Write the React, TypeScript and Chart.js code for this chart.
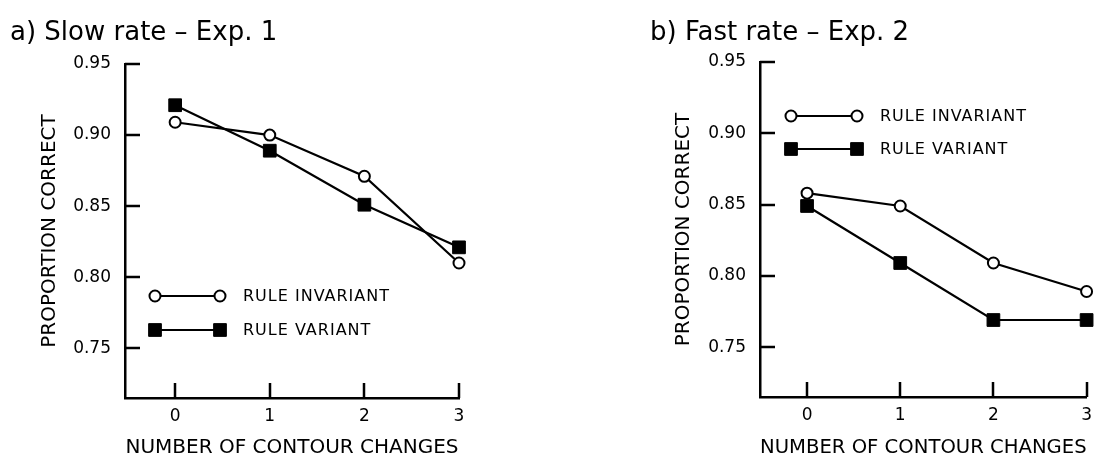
import React, { useEffect, useRef } from 'react';
import { Chart, registerables } from 'chart.js';

Chart.register(...registerables);

// ---- data ----
const xCategories = [0, 1, 2, 3];
const yTickValues = [0.75, 0.8, 0.85, 0.9, 0.95];
const seriesNames = ['RULE INVARIANT', 'RULE VARIANT'];
const slowInvariant = [0.909, 0.9, 0.871, 0.81];
const slowVariant = [0.921, 0.889, 0.851, 0.821];
const fastInvariant = [0.858, 0.849, 0.809, 0.789];
const fastVariant = [0.849, 0.809, 0.769, 0.769];
const panelTitles = ['a) Slow rate – Exp. 1', 'b) Fast rate – Exp. 2'];
const xAxisTitle = 'NUMBER OF CONTOUR CHANGES';
const yAxisTitle = 'PROPORTION CORRECT';

const FONT = '"DejaVu Sans", sans-serif';

type Layout = {
  canvasLeft: number;
  yAxisWidth: number;
  padRight: number;
  padTop: number;
  xAxisHeight: number;
  xMin: number;
  yMin: number;
  yMax: number;
  yTitlePad: number;
  titleX: number;
  titleY: number;
  legX1: number;
  legX2: number;
  legTextX: number;
  legY1: number;
  legY2: number;
};

const layouts: Layout[] = [
  {
    canvasLeft: 0, yAxisWidth: 125, padRight: 91, padTop: 64, xAxisHeight: 62,
    xMin: -0.53, yMin: 0.715, yMax: 0.95, yTitlePad: 38,
    titleX: 10, titleY: 33,
    legX1: 155, legX2: 220, legTextX: 243, legY1: 296, legY2: 330,
  },
  {
    canvasLeft: 550, yAxisWidth: 210, padRight: 7, padTop: 62, xAxisHeight: 63,
    xMin: -0.505, yMin: 0.715, yMax: 0.95, yTitlePad: 122,
    titleX: 100, titleY: 33,
    legX1: 241, legX2: 307, legTextX: 330, legY1: 116, legY2: 149,
  },
];

const toPoints = (vals: number[]) => xCategories.map((x, i) => ({ x, y: vals[i] }));

const decorPlugin = {
  id: 'decor',
  afterDraw(chart: any) {
    const opts = chart.options.plugins.decor;
    const ctx = chart.ctx;
    const area = chart.chartArea;
    const xs = chart.scales.x;
    const ys = chart.scales.y;
    ctx.save();
    ctx.strokeStyle = '#000';
    ctx.lineWidth = 2.5;
    // inward ticks
    ctx.beginPath();
    yTickValues.forEach((v) => {
      const py = Math.round(ys.getPixelForValue(v));
      ctx.moveTo(area.left, py);
      ctx.lineTo(area.left + 15, py);
    });
    xCategories.forEach((v) => {
      const px = Math.round(xs.getPixelForValue(v));
      ctx.moveTo(px, area.bottom);
      ctx.lineTo(px, area.bottom - 15);
    });
    ctx.stroke();

    // panel title
    ctx.fillStyle = '#000';
    ctx.font = `26px ${FONT}`;
    ctx.textBaseline = 'middle';
    ctx.textAlign = 'left';
    ctx.fillText(opts.title, opts.titleX, opts.titleY);

    // legend
    const rows = [
      { y: opts.legY1, ds: chart.data.datasets[0] },
      { y: opts.legY2, ds: chart.data.datasets[1] },
    ];
    rows.forEach(({ y, ds }) => {
      ctx.beginPath();
      ctx.lineWidth = 2.2;
      ctx.moveTo(opts.legX1, y);
      ctx.lineTo(opts.legX2, y);
      ctx.stroke();
      [opts.legX1, opts.legX2].forEach((lx: number) => {
        ctx.beginPath();
        if (ds.pointStyle === 'rect') {
          const s = ds.pointRadius * Math.SQRT1_2;
          ctx.rect(lx - s, y - s, 2 * s, 2 * s);
          ctx.fillStyle = '#000';
          ctx.fill();
          ctx.lineWidth = ds.pointBorderWidth;
          ctx.stroke();
        } else {
          ctx.arc(lx, y, ds.pointRadius, 0, Math.PI * 2);
          ctx.fillStyle = '#fff';
          ctx.fill();
          ctx.lineWidth = ds.pointBorderWidth;
          ctx.stroke();
        }
      });
      ctx.fillStyle = '#000';
      ctx.font = `16px ${FONT}`;
      (ctx as any).letterSpacing = '1px';
      ctx.textBaseline = 'middle';
      ctx.fillText(ds.label, opts.legTextX, y + 1);
      (ctx as any).letterSpacing = '0px';
    });
    ctx.restore();
  },
};

function Panel({ idx, invariant, variant }: { idx: number; invariant: number[]; variant: number[] }) {
  const ref = useRef<HTMLCanvasElement>(null);
  const L = layouts[idx];
  useEffect(() => {
    if (!ref.current) return;
    const chart = new Chart(ref.current, {
      type: 'line',
      data: {
        datasets: [
          {
            label: seriesNames[0],
            data: toPoints(invariant),
            borderColor: '#000',
            borderWidth: 2.2,
            pointStyle: 'circle',
            pointRadius: 5.5,
            pointBorderWidth: 2,
            pointBackgroundColor: '#fff',
            pointBorderColor: '#000',
            tension: 0,
            clip: false as any,
          },
          {
            label: seriesNames[1],
            data: toPoints(variant),
            borderColor: '#000',
            borderWidth: 2.2,
            pointStyle: 'rect',
            pointRadius: 9,
            pointBorderWidth: 1,
            pointBackgroundColor: '#000',
            pointBorderColor: '#000',
            tension: 0,
            clip: false as any,
          },
        ],
      },
      options: {
        responsive: false,
        animation: false,
        events: [],
        layout: { padding: { left: 0, top: L.padTop, right: L.padRight, bottom: 0 } },
        plugins: {
          legend: { display: false },
          tooltip: { enabled: false },
          title: { display: false },
          decor: {
            title: panelTitles[idx],
            titleX: L.titleX, titleY: L.titleY,
            legX1: L.legX1, legX2: L.legX2, legTextX: L.legTextX,
            legY1: L.legY1, legY2: L.legY2,
          },
        } as any,
        scales: {
          x: {
            type: 'linear',
            min: L.xMin,
            max: 3,
            grid: { display: false, drawTicks: false },
            border: { display: true, color: '#000', width: 2.5 },
            afterBuildTicks: (s: any) => { s.ticks = xCategories.map((v) => ({ value: v })); },
            afterFit: (s: any) => { s.height = L.xAxisHeight; },
            ticks: {
              color: '#000',
              font: { family: FONT, size: 17 },
              padding: 8,
              maxRotation: 0,
              autoSkip: false,
              callback: (v: any) => String(v),
            },
            title: {
              display: true,
              text: xAxisTitle,
              color: '#000',
              font: { family: FONT, size: 20 },
              padding: { top: 0, bottom: 0 },
            },
          },
          y: {
            type: 'linear',
            min: L.yMin,
            max: L.yMax,
            grid: { display: false, drawTicks: false },
            border: { display: true, color: '#000', width: 2.5 },
            afterBuildTicks: (s: any) => { s.ticks = yTickValues.map((v) => ({ value: v })); },
            afterFit: (s: any) => { s.width = L.yAxisWidth; },
            ticks: {
              color: '#000',
              font: { family: FONT, size: 17 },
              padding: 14,
              autoSkip: false,
              callback: (v: any) => Number(v).toFixed(2),
            },
            title: {
              display: true,
              text: yAxisTitle,
              color: '#000',
              font: { family: FONT, size: 20 },
              padding: { top: L.yTitlePad, bottom: 0 },
            },
          },
        },
      },
      plugins: [decorPlugin],
    });
    return () => chart.destroy();
  }, []);
  return (
    <canvas
      ref={ref}
      width={550}
      height={460}
      style={{ position: 'absolute', left: L.canvasLeft, top: 0, width: 550, height: 460 }}
    />
  );
}

export default function App() {
  return (
    <div style={{ position: 'fixed', left: 0, top: 0, width: 1100, height: 460, background: '#fff', overflow: 'hidden' }}>
      <Panel idx={0} invariant={slowInvariant} variant={slowVariant} />
      <Panel idx={1} invariant={fastInvariant} variant={fastVariant} />
    </div>
  );
}
